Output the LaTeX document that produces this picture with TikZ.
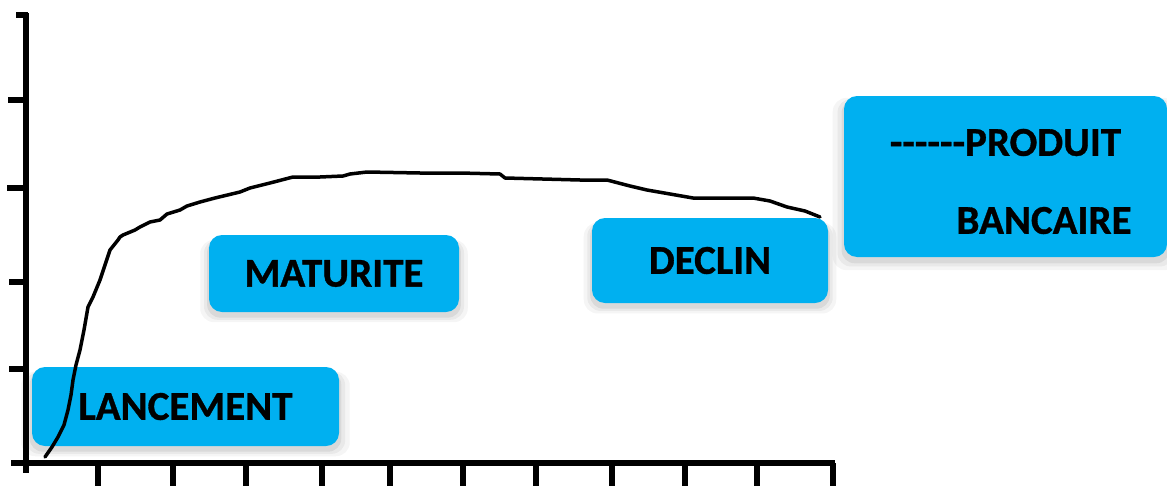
\documentclass[tikz,border=0pt]{standalone}
\usepackage{fontspec}
\setmainfont{Carlito}
\newfontfamily\phasefont{Carlito}[BoldFeatures={FakeBold=0.8}]
\usetikzlibrary{shadows}
\definecolor{phaseblue}{HTML}{00B0F0}

\tikzset{
  softshadow/.style={
    general shadow={fill=black, opacity=.04, shadow scale=1.07, shadow yshift=-7pt},
    general shadow={fill=black, opacity=.05, shadow scale=1.04, shadow yshift=-6pt},
    general shadow={fill=black, opacity=.07, shadow scale=1.015, shadow yshift=-5pt}},
  phase/.style={fill=phaseblue, rounded corners=13pt, inner sep=0pt, softshadow,
    font=\fontsize{41}{49}\phasefont\bfseries},
  phasetext/.style={inner sep=0pt, font=\fontsize{41}{49}\phasefont\bfseries},
  axis/.style={black, line width=6pt},
  axistick/.style={black, line width=6.5pt},
}

\begin{document}
\begin{tikzpicture}[x=1pt, y=-1pt]
\useasboundingbox (0,0) rectangle (1167,490);

% axes
\draw[axis] (26,13) -- (26,473);
\draw[axis] (11,463) -- (835,463);
\draw[axistick] (16,15) -- (28,15);
\foreach \y/\l in {100/8, 188/7, 282/9, 369/9}
 \draw[axistick] (\l,\y) -- (28,\y);
\foreach \x in {98,173,246,322,390,463,536,612,685,757,833}
 \draw[axistick] (\x,463) -- (\x,486);

% phases of the cycle
\node[phase, minimum width=307, minimum height=79] (lancement) at (185.5,406.5) {LANCEMENT};
\node[phase, minimum width=250, minimum height=77] (maturite) at (334,273.5) {MATURITE};
\node[phase, minimum width=236, minimum height=85] (declin) at (710,260.5) {DECLIN};
\node[phase, minimum width=323, minimum height=161] (produit) at (1005.5,176.5) {};
\node[phasetext] (produit-1) at (1005.5,142.5) {-{}-{}-{}-{}-{}-PRODUIT};
\node[phasetext] (produit-2) at (1044,220.5) {BANCAIRE};

% life curve
\draw[black, line width=3.5pt, line join=round, line cap=round] plot coordinates {
 (45,457) (52,447) (58,437) (64,425) (68,410) (71,395) (73,380) (76,365)
 (80,350) (84,330) (88,307) (93,297) (100,280) (104,268) (110,250) (118,240)
 (120,237) (123,235) (135,230) (140,227) (150,222) (160,220) (167,214)
 (180,210) (187,206) (200,202) (215,198) (240,192) (250,188) (270,183)
 (293,177) (320,177) (343,176) (350,174) (367,172) (420,173) (460,173)
 (500,174) (505,178) (580,180) (607,180) (630,186) (647,190) (693,198)
 (753,198) (770,201) (787,207) (805,211) (820,217)};
\end{tikzpicture}
\end{document}
